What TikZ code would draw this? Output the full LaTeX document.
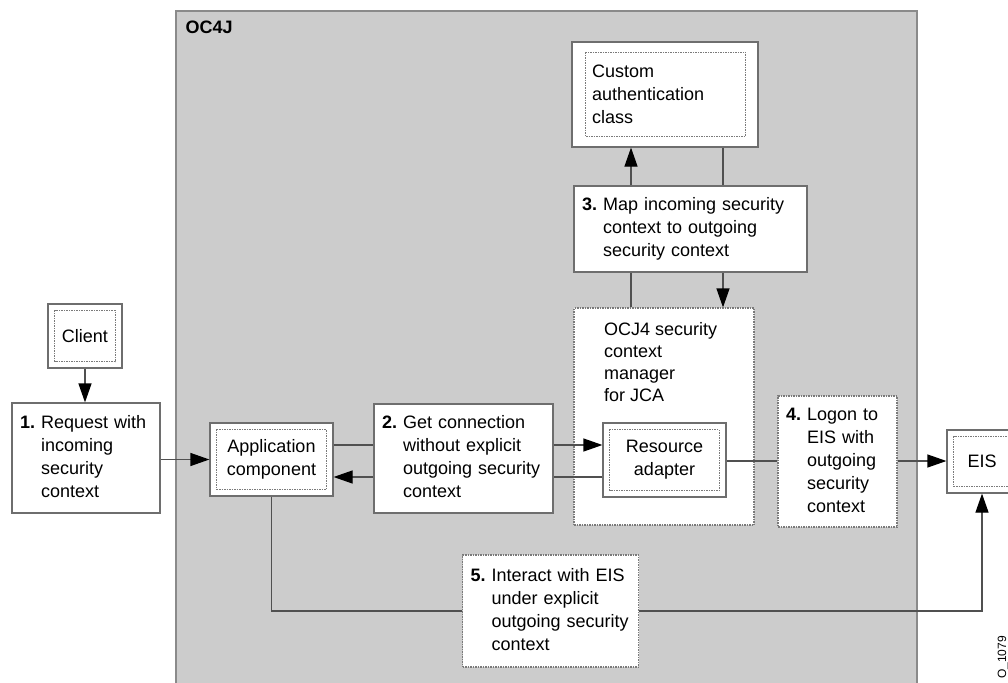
\documentclass[tikz,border=0pt]{standalone}
\usepackage{fontspec}
\setmainfont{Liberation Sans}
\usetikzlibrary{arrows.meta}

\definecolor{bggray}{HTML}{CCCCCC}
\definecolor{framegray}{HTML}{8A8A8A}
\definecolor{boxgray}{HTML}{6E6E6E}
\definecolor{dotgray}{HTML}{7A7A7A}
\definecolor{linegray}{HTML}{505050}

\newcommand{\numtxt}[2]{\textbf{#1}\ \begin{tabular}[t]{@{}l@{}}#2\end{tabular}}

\tikzset{
  container/.style={draw=framegray, fill=bggray, line width=1.6pt},
  box/.style={draw=boxgray, fill=white, line width=1.2pt, inner xsep=8pt, inner ysep=0pt,
    align=left, font=\fontsize{18}{23}\selectfont},
  dotbox/.style={box, draw=dotgray, dash pattern=on 1.5pt off 1pt},
  innerdot/.style={draw=dotgray, line width=0.9pt, dash pattern=on 1.5pt off 1pt},
  link/.style={draw=linegray, line width=1.2pt},
  arr/.style={link, -{Triangle[length=19pt, width=13pt, color=black]}}
}

\begin{document}
\begin{tikzpicture}[x=1pt, y=-1pt]
    \useasboundingbox (0,0) rectangle (1008,682);
    \clip (0,0) rectangle (1008,682);
    \node[container, anchor=north west, minimum width=741pt, minimum height=700pt] (oc4j) at (175,10) {};
    \node[anchor=west, font=\bfseries\fontsize{18}{23}\selectfont] (oc4jname) at (182,27) {OC4J};

    \node[box, minimum width=74pt, minimum height=64pt, align=center] (client) at (85,336) {Client};
    \node[box, text width=132pt, minimum height=110pt] (req) at (86,458)
        {\numtxt{1.}{Request with\\incoming\\security\\context}};
    \node[box, minimum width=123pt, minimum height=73pt, align=center] (app) at (271.5,459.5)
        {Application\\component};
    \node[box, text width=163pt, minimum height=109pt] (getconn) at (463.5,458.5)
        {\numtxt{2.}{Get connection\\without explicit\\outgoing security\\context}};
    \node[box, text width=146pt, inner xsep=20pt, minimum height=105pt] (custom) at (665,94.5)
        {Custom\\authentication\\class};
    \node[box, text width=217pt, minimum height=86pt] (map) at (690.5,229)
        {\numtxt{3.}{Map incoming security\\context to outgoing\\security context}};
    \node[dotbox, minimum width=180pt, minimum height=217pt] (mgr) at (664,416.5) {};
    \node[anchor=north west, inner sep=0pt, align=left, font=\fontsize{18}{22}\selectfont] (mgrname) at (604,322)
        {OCJ4 security\\context\\manager\\for JCA};
    \node[box, minimum width=123pt, minimum height=74pt, align=center] (radapter) at (664.5,460)
        {Resource\\adapter};
    \node[dotbox, text width=103pt, minimum height=131pt] (logon) at (837.5,461.5)
        {\numtxt{4.}{Logon to\\EIS with\\outgoing\\security\\context}};
    \node[box, minimum width=70pt, minimum height=63pt, align=center] (eis) at (982,461.5) {EIS};
    \node[dotbox, text width=160pt, minimum height=112pt] (interact) at (550.5,611)
        {\numtxt{5.}{Interact with EIS\\under explicit\\outgoing security\\context}};
    \node[rotate=90, anchor=east, inner sep=0pt, font=\fontsize{12}{14}\selectfont] (figid) at (1003,636) {O\_1079};

    \foreach \n in {client,app,radapter,eis}
        \draw[innerdot] ([shift={(7.5,7)}]\n.north west) rectangle ([shift={(-7.5,-7)}]\n.south east);
    \draw[innerdot] ([shift={(14,11)}]custom.north west) rectangle ([shift={(-13,-11)}]custom.south east);

    \draw[arr] (client.south) -- (client.south |- req.north);
    \draw[arr] (req.east |- app.west) -- (app.west);
    \draw[link] (app.east |- 0,445) -- (getconn.west |- 0,445);
    \draw[arr] (getconn.east |- 0,445) -- (radapter.west |- 0,445);
    \draw[link] (radapter.west |- 0,477) -- (getconn.east |- 0,477);
    \draw[arr] (getconn.west |- 0,477) -- (app.east |- 0,477);
    \draw[arr] (map.north -| 631,0) -- (custom.south -| 631,0);
    \draw[link] (custom.south -| 723,0) -- (map.north -| 723,0);
    \draw[link] (map.south -| 631,0) -- (mgr.north -| 631,0);
    \draw[arr] (map.south -| 723,0) -- (mgr.north -| 723,0);
    \draw[link] (radapter.east |- 0,461) -- (logon.west |- 0,461);
    \draw[arr] (logon.east |- 0,461) -- (eis.west |- 0,461);
    \draw[link] (app.south) |- (interact.west);
    \draw[arr] (interact.east) -| (eis.south);
\end{tikzpicture}
\end{document}
